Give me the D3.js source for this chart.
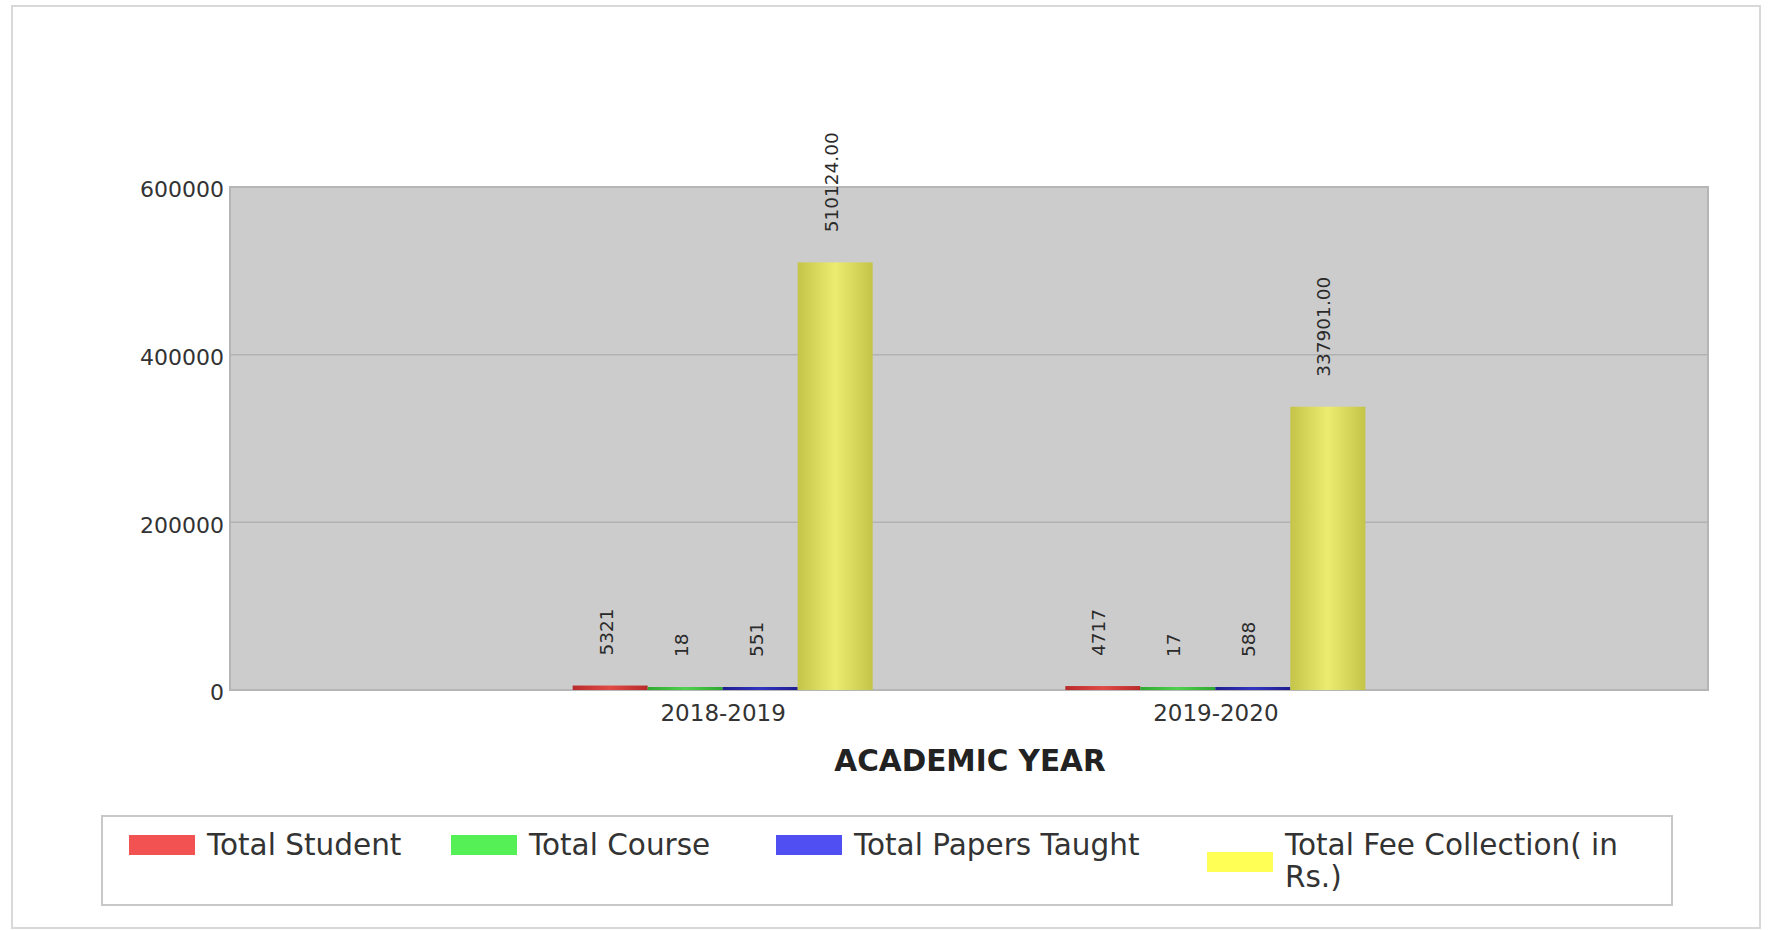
<!DOCTYPE html>
<html>
<head>
<meta charset="utf-8">
<script src="https://cdn.jsdelivr.net/npm/d3@7"></script>
<style>
  body { margin: 0; background: #fff; }
  text { font-family: "DejaVu Sans", Verdana, sans-serif; }
</style>
</head>
<body>
<div id="chart"></div>
<script>
// academic years and the four series
const YEARS = ["2018-2019", "2019-2020"];
const TOTAL_STUDENT = [5321, 4717];
const TOTAL_COURSE = [18, 17];
const TOTAL_PAPERS = [551, 588];
const TOTAL_FEE = [510124.0, 337901.0];
const Y_TICKS = [0, 200000, 400000, 600000];

const SERIES = [
  { key: "student", name: "Total Student", values: TOTAL_STUDENT, fmt: d3.format("d"),
    swatch: "#f25252", dark: "#b82a2a", light: "#e04a44" },
  { key: "course", name: "Total Course", values: TOTAL_COURSE, fmt: d3.format("d"),
    swatch: "#55f055", dark: "#2fa82f", light: "#4fd04f" },
  { key: "papers", name: "Total Papers Taught", values: TOTAL_PAPERS, fmt: d3.format("d"),
    swatch: "#5050f2", dark: "#1e1e90", light: "#3434c0" },
  { key: "fee", name: ["Total Fee Collection( in", "Rs.)"], values: TOTAL_FEE, fmt: d3.format(".2f"),
    swatch: "#ffff55", dark: "#c4c448", light: "#ecec70" },
];

const W = 1771, H = 930;
const plot = { left: 230, right: 1708, top: 187, bottom: 690 };
// legend column starts (layout only)
const LEGEND_COLS = [129, 451, 776, 1207];

const svg = d3.select("#chart").append("svg")
  .attr("width", W).attr("height", H);

// gradients for the cylinder-ish bars
const defs = svg.append("defs");
SERIES.forEach((s) => {
  const g = defs.append("linearGradient").attr("id", "grad-" + s.key)
    .attr("x1", "0%").attr("x2", "100%").attr("y1", "0%").attr("y2", "0%");
  g.append("stop").attr("offset", "0%").attr("stop-color", s.dark);
  g.append("stop").attr("offset", "50%").attr("stop-color", s.light);
  g.append("stop").attr("offset", "100%").attr("stop-color", s.dark);
});

// outer frame
svg.append("rect")
  .attr("x", 12).attr("y", 6).attr("width", 1748).attr("height", 922)
  .attr("fill", "none").attr("stroke", "#d8d8d8").attr("stroke-width", 2);

const x = d3.scalePoint().domain(YEARS).range([plot.left, plot.right]).padding(1);
const y = d3.scaleLinear().domain([0, 600000]).range([plot.bottom, plot.top]);
const inner = d3.scaleBand().domain(SERIES.map((s) => s.key)).range([-150, 150]).paddingInner(0);

// plot background
svg.append("rect")
  .attr("x", plot.left).attr("y", plot.top)
  .attr("width", plot.right - plot.left).attr("height", plot.bottom - plot.top)
  .attr("fill", "#cccccc").attr("stroke", "#b5b5b5").attr("stroke-width", 2);

// grid lines
svg.append("g")
  .selectAll("line")
  .data(Y_TICKS.filter((t) => t > 0 && t < 600000))
  .join("line")
  .attr("x1", plot.left).attr("x2", plot.right)
  .attr("y1", (d) => y(d)).attr("y2", (d) => y(d))
  .attr("stroke", "#b2b2b2").attr("stroke-width", 1.5);

// y axis
const yAxis = svg.append("g")
  .attr("transform", `translate(${plot.left},0)`)
  .call(d3.axisLeft(y).tickValues(Y_TICKS).tickSize(0).tickPadding(6).tickFormat(d3.format("d")));
yAxis.select(".domain").remove();
yAxis.selectAll("text")
  .attr("fill", "#333").attr("font-size", 22)
  .attr("dy", "0.45em");

// x axis
const xAxis = svg.append("g")
  .attr("transform", `translate(0,${plot.bottom})`)
  .call(d3.axisBottom(x).tickSize(0).tickPadding(15));
xAxis.select(".domain").remove();
xAxis.selectAll("text").attr("fill", "#333").attr("font-size", 23);

// axis title
svg.append("text")
  .attr("x", (plot.left + plot.right) / 2 + 1).attr("y", 761)
  .attr("text-anchor", "middle").attr("dominant-baseline", "central")
  .attr("font-size", 29.5).attr("font-weight", "bold").attr("fill", "#222")
  .text("ACADEMIC YEAR");

// bars
const groups = svg.append("g").selectAll("g")
  .data(YEARS)
  .join("g")
  .attr("transform", (d) => `translate(${x(d)},0)`);

groups.each(function (year, i) {
  const g = d3.select(this);
  SERIES.forEach((s) => {
    const v = s.values[i];
    const top = Math.min(y(v), plot.bottom - 3);
    g.append("rect")
      .attr("x", inner(s.key)).attr("width", inner.bandwidth())
      .attr("y", top).attr("height", plot.bottom - top)
      .attr("fill", `url(#grad-${s.key})`);
    g.append("text")
      .attr("transform", `translate(${inner(s.key) + inner.bandwidth() / 2 - 4},${top - 30}) rotate(-90)`)
      .attr("dy", "0.35em")
      .attr("font-size", 18.5).attr("fill", "#2a2a2a")
      .text(s.fmt(v));
  });
});

// legend
const legend = svg.append("g");
legend.append("rect")
  .attr("x", 102).attr("y", 816).attr("width", 1570).attr("height", 89)
  .attr("fill", "#fff").attr("stroke", "#c8c8c8").attr("stroke-width", 2);

SERIES.forEach((s, i) => {
  const multi = Array.isArray(s.name);
  const item = legend.append("g").attr("transform", `translate(${LEGEND_COLS[i]},0)`);
  item.append("rect")
    .attr("x", 0).attr("y", multi ? 852 : 835).attr("width", 66).attr("height", 20)
    .attr("fill", s.swatch);
  const t = item.append("text")
    .attr("font-size", 29.5).attr("fill", "#333");
  const lines = multi ? s.name : [s.name];
  lines.forEach((ln, k) => {
    t.append("tspan").attr("x", 78).attr("y", 845 + k * 32)
      .attr("dominant-baseline", "central").text(ln);
  });
});
</script>
</body>
</html>
